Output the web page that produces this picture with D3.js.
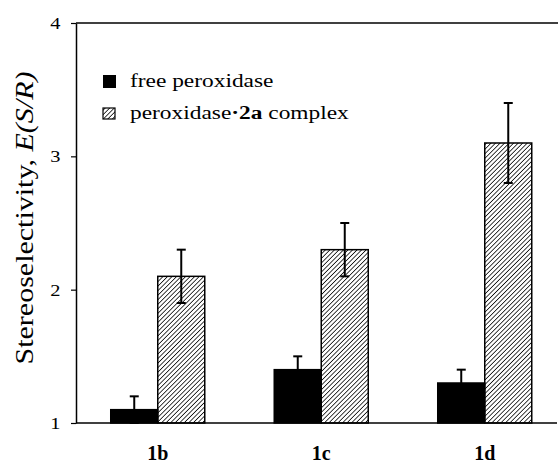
<!DOCTYPE html>
<html>
<head>
<meta charset="utf-8">
<script src="https://cdn.jsdelivr.net/npm/d3@7"></script>
<style>
  body { margin: 0; background: #fff; }
  svg { display: block; }
  text, tspan { font-family: "Liberation Serif", "Times New Roman", serif; fill: #000; }
</style>
</head>
<body>
<svg id="chart"></svg>
<script>
const categories = ["1b", "1c", "1d"];
const series = ["free", "complex"];
const freeValues = [1.1, 1.4, 1.3];
const freeErrors = [0.1, 0.1, 0.1];
const complexValues = [2.1, 2.3, 3.1];
const complexErrors = [0.2, 0.2, 0.3];
const yTicks = [1, 2, 3, 4];

const width = 558, height = 463;
const plotLeft = 76, plotTop = 23, plotBottom = 423;
const serif = "Liberation Serif, Times New Roman, serif";
const stretch = 1.2;   // the type in the original runs wide

const svg = d3.select("#chart").attr("width", width).attr("height", height)
    .attr("font-family", serif);

// hatch for the complex bars
svg.append("defs").append("pattern")
    .attr("id", "hatch")
    .attr("patternUnits", "userSpaceOnUse")
    .attr("width", 3.2).attr("height", 3.2)
    .attr("patternTransform", "rotate(45)")
    .append("line")
    .attr("x1", 0).attr("y1", 0).attr("x2", 0).attr("y2", 3.2)
    .attr("stroke", "#000").attr("stroke-width", 1.5);

const y = d3.scaleLinear().domain([1, 4]).range([plotBottom, plotTop]);

const x = d3.scaleBand().domain(categories)
    .range([plotLeft, 566.5]).paddingInner(0.425).paddingOuter(0.2125);
const x1 = d3.scaleBand().domain(series).range([0, x.bandwidth()]);

var rows = categories.map((c, i) => [
    { cat: c, s: "free", v: freeValues[i], e: freeErrors[i] },
    { cat: c, s: "complex", v: complexValues[i], e: complexErrors[i] }
]).flat();

// y axis
var yAxis = svg.append("g")
    .attr("transform", "translate(" + plotLeft + ",0)")
    .call(d3.axisLeft(y).tickValues(yTicks).tickFormat(d3.format("d")).tickSize(5).tickPadding(8).tickSizeOuter(0));
yAxis.attr("font-family", serif);
yAxis.select(".domain").attr("stroke-width", 1.5);
yAxis.selectAll(".tick line").attr("stroke-width", 1.2);
yAxis.selectAll(".tick text").attr("font-size", 17).attr("fill", "#000")
    .attr("transform", "scale(" + stretch + ",1)");

// frame lines, top and bottom
svg.append("line")
    .attr("x1", plotLeft).attr("x2", 558).attr("y1", y(4)).attr("y2", y(4))
    .attr("stroke", "#000").attr("stroke-width", 1.5);
svg.append("line")
    .attr("x1", plotLeft).attr("x2", 557).attr("y1", y(1)).attr("y2", y(1))
    .attr("stroke", "#000").attr("stroke-width", 1.5);

// bars
svg.selectAll(".bar")
    .data(rows)
    .enter().append("rect")
    .attr("class", "bar")
    .attr("x", (d) => x(d.cat) + x1(d.s))
    .attr("y", (d) => y(d.v))
    .attr("width", x1.bandwidth())
    .attr("height", (d) => y(1) - y(d.v))
    .attr("fill", (d) => d.s == "free" ? "#000" : "url(#hatch)")
    .attr("stroke", "#000")
    .attr("stroke-width", 1.5);

// error bars
var err = svg.selectAll(".err")
    .data(rows)
    .enter().append("g")
    .attr("class", "err")
    .attr("transform", (d) => "translate(" + (x(d.cat) + x1(d.s) + x1.bandwidth() / 2) + ",0)");
err.append("line")
    .attr("y1", (d) => y(d.v - d.e)).attr("y2", (d) => y(d.v + d.e))
    .attr("stroke", "#000").attr("stroke-width", 2);
err.append("line")
    .attr("x1", -4.5).attr("x2", 4.5)
    .attr("y1", (d) => y(d.v + d.e)).attr("y2", (d) => y(d.v + d.e))
    .attr("stroke", "#000").attr("stroke-width", 2);
err.append("line")
    .attr("x1", -4.5).attr("x2", 4.5)
    .attr("y1", (d) => y(d.v - d.e)).attr("y2", (d) => y(d.v - d.e))
    .attr("stroke", "#000").attr("stroke-width", 2);

// category labels
var xAxis = svg.append("g")
    .attr("transform", "translate(0," + plotBottom + ")")
    .call(d3.axisBottom(x).tickSize(0).tickPadding(23));
xAxis.attr("font-family", serif);
xAxis.select(".domain").remove();
xAxis.selectAll(".tick text").attr("font-size", 20).attr("font-weight", "bold")
    .attr("fill", "#000");

// y label
var ylab = svg.append("text")
    .attr("transform", "translate(33,218) rotate(-90) scale(" + stretch + ",1)")
    .attr("text-anchor", "middle")
    .attr("fill", "#000")
    .attr("font-size", 25);
ylab.append("tspan").attr("fill", "#000").text("Stereoselectivity, ");
ylab.append("tspan").attr("fill", "#000").style("font-style", "italic").text("E(S/R)");

// legend
var legend = svg.append("g");
legend.append("rect").attr("x", 103).attr("y", 75).attr("width", 13).attr("height", 13)
    .attr("fill", "#000");
legend.append("rect").attr("x", 103).attr("y", 108).attr("width", 12).attr("height", 11)
    .attr("fill", "url(#hatch)").attr("stroke", "#000").attr("stroke-width", 1.2);
legend.append("text")
    .attr("transform", "translate(130,87) scale(" + stretch + ",1)")
    .attr("font-size", 19.5).text("free peroxidase");
var l2 = legend.append("text")
    .attr("transform", "translate(130,119) scale(" + stretch + ",1)")
    .attr("font-size", 19.5);
l2.append("tspan").text("peroxidase");
l2.append("tspan").attr("font-weight", "bold").text("·2a");
l2.append("tspan").text(" complex");
</script>
</body>
</html>
